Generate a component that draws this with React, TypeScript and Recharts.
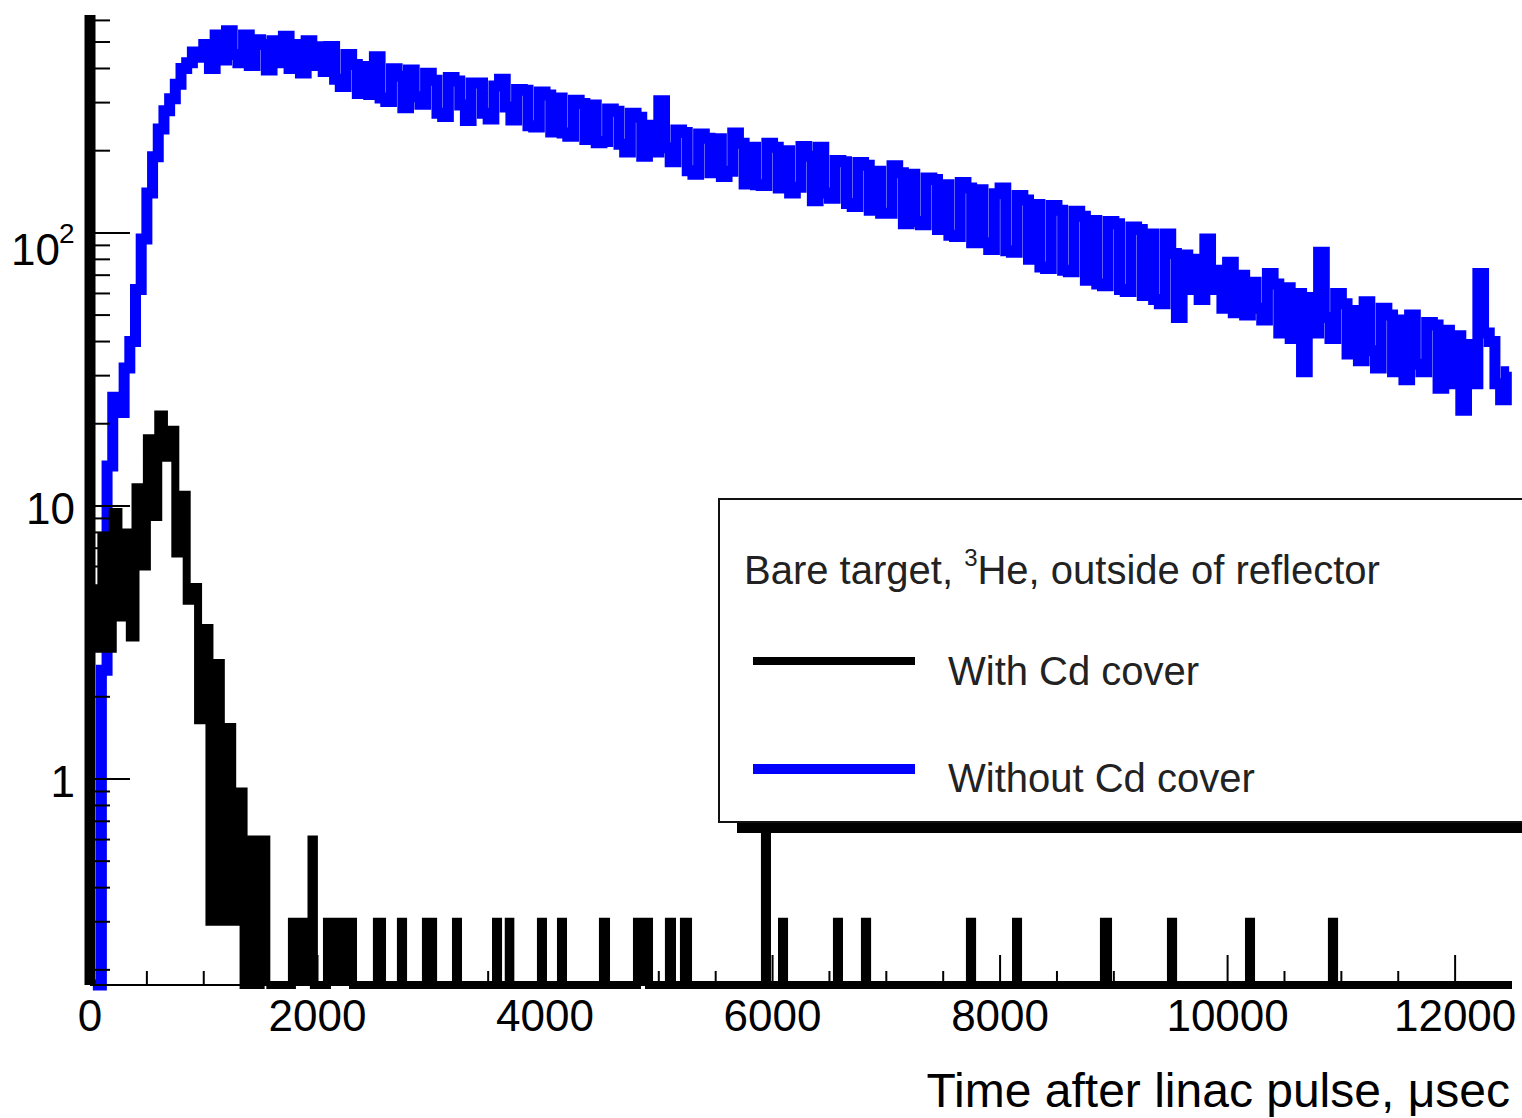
import React from "react";
import { ComposedChart, Line, Area, XAxis, YAxis, Legend } from "recharts";

const FONT = "'Liberation Sans', Arial, Helvetica, sans-serif";

// axis ranges (y is log)
const Y_MIN = 0.176;
const Y_MAX = 628;
const T_MAX = 12500;

// Without Cd cover: 50 µs bins from t = 0
const BLUE_BIN = 50;
const withoutCd = [
  0, 0, 2.5, 14, 25, 22, 32, 40, 62, 95,
  140, 190, 240, 280, 310, 350, 400, 420, 460, 440,
  490, 400, 530, 430, 550, 450, 420, 530, 410, 510,
  490, 395, 505, 420, 525, 400, 490, 385, 505, 410,
  480, 390, 481, 365, 344, 450, 414, 324, 407, 321,
  442, 312, 303, 399, 375, 287, 395, 315, 296, 384,
  362, 274, 267, 371, 360, 294, 258, 354, 354, 274,
  261, 345, 365, 289, 259, 335, 333, 247, 244, 328,
  320, 234, 312, 232, 226, 306, 298, 220, 294, 214,
  216, 284, 279, 211, 198, 274, 265, 191, 248, 198,
  305, 205, 182, 238, 233, 169, 164, 230, 222, 166,
  221, 161, 168, 232, 213, 151, 206, 150, 149, 213,
  206, 146, 200, 140, 147, 207, 191, 131, 206, 140,
  134, 184, 182, 128, 125, 181, 177, 121, 168, 118,
  118, 176, 166, 108, 164, 110, 107, 159, 157, 103,
  150, 98, 97, 153, 146, 92, 144, 92, 87, 139,
  146, 86, 85, 137, 132, 80, 127, 75, 74, 126,
  121, 73, 72, 120, 115, 67, 111, 65, 64, 110,
  108, 62, 61, 105, 103, 59, 99, 57, 55, 99,
  84, 49, 83, 62, 80, 57, 95, 62, 73, 53,
  78, 51, 70, 50, 66, 53, 48, 71, 65, 43,
  63, 41, 60, 31, 58, 43, 85, 49, 41, 60,
  55, 36, 52, 34, 56, 37, 32, 53, 50, 31,
  48, 29, 50, 33, 31, 47, 46, 27, 44, 28,
  42, 22.4, 39, 28, 71, 43, 40, 28, 24.5, 31,
];

// With Cd cover around the peak: 50 µs bins from t = 0
const BLACK_BIN = 50;
const withCdPeak = [
  5.0, 3.0, 7.7, 3.0, 9.5, 3.9, 8.0, 3.3, 11.7, 6.0,
  17.7, 9.1, 21.6, 15.0, 19.0, 6.7, 11.0, 4.5, 5.05, 1.64,
  3.57, 0.3, 2.66, 0.3, 1.55, 0.3, 0.9, 0, 0.6, 0,
  0.6, 0,
];

// With Cd cover later on: single bins only  [from µs, to µs, counts]
const withCdTail: [number, number, number][] = [
  [1775, 1947, 0.3], [1947, 1968, 0.6], [2083, 2312, 0.3], [2522, 2567, 0.3],
  [2733, 2752, 0.3], [2953, 3016, 0.3], [3217, 3235, 0.3], [3569, 3587, 0.3],
  [3681, 3695, 0.3], [3964, 3982, 0.3], [4140, 4158, 0.3], [4509, 4536, 0.3],
  [4808, 4914, 0.3], [5089, 5116, 0.3], [5221, 5257, 0.3], [5933, 5951, 0.9],
  [6083, 6101, 0.3], [6566, 6584, 0.3], [6812, 6831, 0.3], [7735, 7754, 0.3],
  [8140, 8158, 0.3], [8913, 8949, 0.3], [9502, 9521, 0.3], [10188, 10206, 0.3],
  [10917, 10936, 0.3],
];

const xTicks = [
  0, 500, 1000, 1500, 2000, 2500, 3000, 3500, 4000, 4500, 5000, 5500, 6000,
  6500, 7000, 7500, 8000, 8500, 9000, 9500, 10000, 10500, 11000, 11500, 12000,
];
const yTicks = [
  0.2, 0.3, 0.4, 0.5, 0.6, 0.7, 0.8, 0.9,
  1, 2, 3, 4, 5, 6, 7, 8, 9,
  10, 20, 30, 40, 50, 60, 70, 80, 90,
  100, 200, 300, 400, 500, 600,
];
const yDecades = [1, 10, 100];

const seriesNames = ["With Cd cover", "Without Cd cover"];
const xTitle = "Time after linac pulse, \u03bcsec";

// empty bins sit on the axis floor (log pad)
const floor = (v: number) => (v > Y_MIN ? v : Y_MIN);

const blueData = withoutCd.map((c, i) => ({ t: (i + 0.5) * BLUE_BIN, v: floor(c) }));
const blackPeakData = withCdPeak.map((c, i) => ({ t: i * BLACK_BIN, v: floor(c) }));
const blackTailData: { t: number; v: number }[] = [
  { t: (withCdPeak.length - 1) * BLACK_BIN, v: Y_MIN },
];
withCdTail.forEach(([from, to, c]) => {
  blackTailData.push({ t: from, v: c }, { t: to, v: Y_MIN });
});
blackTailData.push({ t: T_MAX, v: Y_MIN });

const XTick = (props: any) => {
  const { x, y, payload } = props;
  const v = payload.value;
  const major = v % 2000 === 0;
  return (
    <g>
      <line x1={x} x2={x} y1={y} y2={y - (major ? 30 : 14)} stroke="#000" strokeWidth={2} />
      {major && (
        <text x={x} y={y + 46} textAnchor="middle" fontSize={44} fill="#000" fontFamily={FONT}>
          {v}
        </text>
      )}
    </g>
  );
};

const YTick = (props: any) => {
  const { x, y, payload } = props;
  const v = payload.value;
  const major = yDecades.includes(v);
  return (
    <g>
      <line x1={x} x2={x + (major ? 40 : 20)} y1={y} y2={y} stroke="#000" strokeWidth={2} />
      {major && v < 100 && (
        <text x={x - 15} y={y + 18} textAnchor="end" fontSize={44} fill="#000" fontFamily={FONT}>
          {v}
        </text>
      )}
      {v === 100 && (
        <g fontFamily={FONT} fill="#000">
          <text x={x - 30} y={y + 32} textAnchor="end" fontSize={44}>10</text>
          <text x={x - 31} y={y + 10} textAnchor="start" fontSize={28}>2</text>
        </g>
      )}
    </g>
  );
};

const XTitle = (props: any) => {
  const { viewBox } = props;
  return (
    <text
      x={viewBox.x + viewBox.width - 2}
      y={viewBox.y + 122}
      textAnchor="end"
      fontSize={48}
      fill="#000"
      fontFamily={FONT}
    >
      {xTitle}
    </text>
  );
};

// ROOT-style legend box with shadow
const LegendBox = () => (
  <svg width={880} height={345} style={{ display: "block" }} fontFamily={FONT}>
    <rect x={19} y={10} width={830} height={325} fill="#000" />
    <rect x={1} y={1} width={830} height={323} fill="#fff" stroke="#111" strokeWidth={2} />
    <text x={26} y={86} fontSize={40} fill="#222">
      {"Bare target, "}
      <tspan fontSize={24} dy={-18}>3</tspan>
      <tspan dy={18}>He, outside of reflector</tspan>
    </text>
    <line x1={35} x2={197} y1={163} y2={163} stroke="#000" strokeWidth={8} />
    <text x={230} y={187} fontSize={40} fill="#222">{seriesNames[0]}</text>
    <line x1={35} x2={197} y1={271} y2={271} stroke="#0000ff" strokeWidth={10} />
    <text x={230} y={294} fontSize={40} fill="#222">{seriesNames[1]}</text>
  </svg>
);

export default function App() {
  return (
    <div
      style={{
        position: "absolute",
        left: 0,
        top: 0,
        width: 1522,
        height: 1118,
        overflow: "hidden",
        background: "#fff",
      }}
    >
      <ComposedChart width={1522} height={1118} margin={{ top: 15, right: 10, bottom: 0, left: 0 }}>
        <XAxis
          dataKey="t"
          type="number"
          domain={[0, T_MAX]}
          ticks={xTicks}
          interval={0}
          height={133}
          tickSize={0}
          tickMargin={0}
          tickLine={false}
          axisLine={{ stroke: "#000", strokeWidth: 2 }}
          tick={<XTick />}
          label={(p: any) => <XTitle {...p} />}
        />
        <XAxis
          xAxisId="top"
          orientation="top"
          type="number"
          domain={[0, T_MAX]}
          height={0}
          tick={false}
          tickLine={false}
          axisLine={{ stroke: "#222", strokeWidth: 2 }}
        />
        <YAxis
          type="number"
          scale="log"
          domain={[Y_MIN, Y_MAX]}
          ticks={yTicks}
          interval={0}
          width={90}
          tickSize={0}
          tickMargin={0}
          tickLine={false}
          axisLine={{ stroke: "#000", strokeWidth: 11 }}
          tick={<YTick />}
        />
        <YAxis
          yAxisId="right"
          orientation="right"
          type="number"
          scale="log"
          domain={[Y_MIN, Y_MAX]}
          width={0}
          tick={false}
          tickLine={false}
          axisLine={{ stroke: "#222", strokeWidth: 2 }}
        />
        <Legend
          layout="vertical"
          align="center"
          verticalAlign="middle"
          content={() => <LegendBox />}
          wrapperStyle={{ left: 718, top: 498, width: 880, height: 345 }}
        />
        <Line
          data={blueData}
          dataKey="v"
          name={seriesNames[1]}
          type="step"
          stroke="#0000ff"
          strokeWidth={11}
          strokeLinejoin="miter"
          dot={false}
          activeDot={false}
          isAnimationActive={false}
        />
        <Line
          data={blackPeakData}
          dataKey="v"
          name={seriesNames[0]}
          type="stepAfter"
          stroke="#000"
          strokeWidth={8}
          strokeLinejoin="miter"
          dot={false}
          activeDot={false}
          isAnimationActive={false}
        />
        <Area
          data={blackTailData}
          dataKey="v"
          name={seriesNames[0]}
          type="stepAfter"
          stroke="#000"
          strokeWidth={8}
          fill="#000"
          fillOpacity={1}
          baseValue={Y_MIN}
          dot={false}
          activeDot={false}
          isAnimationActive={false}
        />
      </ComposedChart>
    </div>
  );
}
